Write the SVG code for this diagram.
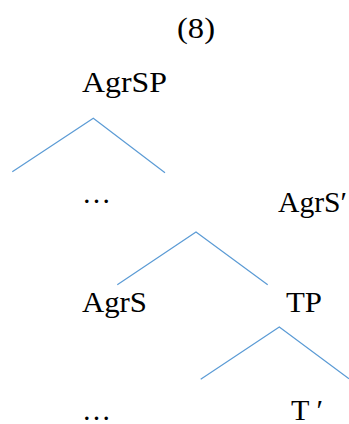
<svg xmlns="http://www.w3.org/2000/svg" width="349" height="424" viewBox="0 0 349 424">
<style>
.t{font-family:'Liberation Serif','Times New Roman',serif;font-size:29px;fill:#000}
.e{stroke:#5B9BD5;stroke-width:1.2;fill:none}
</style>
<rect width="349" height="424" fill="#fff"/>
<g id="connectors">
<polyline class="e" points="12.3,171.7 93.3,118.3 165,172.7"/>
<polyline class="e" points="117.3,284.7 196,232 267.7,284.7"/>
<polyline class="e" points="200.7,379.3 279.3,327 349,378.7"/>
</g>
<g id="label8"><text class="t" x="177" y="38" textLength="38" lengthAdjust="spacingAndGlyphs">(8)</text></g>
<g id="agrsp"><text class="t" x="82" y="92" textLength="85" lengthAdjust="spacingAndGlyphs">AgrSP</text></g>
<g id="dots1"><text class="t" x="82" y="203" textLength="29" lengthAdjust="spacingAndGlyphs">…</text></g>
<g id="agrsbar"><text class="t" x="278" y="212" textLength="69" lengthAdjust="spacingAndGlyphs">AgrS′</text></g>
<g id="agrs"><text class="t" x="82" y="312" textLength="65" lengthAdjust="spacingAndGlyphs">AgrS</text></g>
<g id="tp"><text class="t" x="286" y="312" textLength="36" lengthAdjust="spacingAndGlyphs">TP</text></g>
<g id="dots2"><text class="t" x="82" y="420" textLength="29" lengthAdjust="spacingAndGlyphs">…</text></g>
<g id="tbar"><text class="t" x="291" y="420" textLength="32" lengthAdjust="spacingAndGlyphs">T ′</text></g>
</svg>
